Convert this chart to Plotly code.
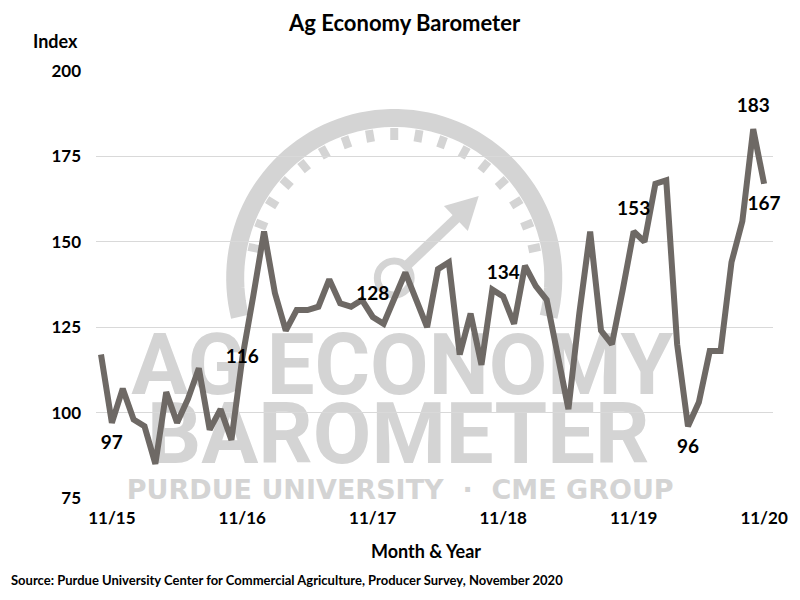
import numpy as np
import pandas as pd
import plotly.graph_objects as go

# ---------------- data ----------------
months = [d.strftime('%m/%y') for d in pd.date_range('2015-10-01', periods=62, freq='MS')]
index_values = [117, 97, 107, 98, 96, 85, 106, 97, 104, 113, 95, 101, 92,
                116, 134, 153, 135, 124, 130, 130, 131, 139, 132, 131, 133,
                128, 126, 133, 141, 133, 125, 142, 144, 117, 129, 114, 136,
                134, 126, 143, 137, 133, 117, 101, 129, 153, 124, 120, 136,
                153, 150, 167, 168, 120, 96, 103, 118, 118, 144, 156, 183, 167]
tick_months = ['11/15', '11/16', '11/17', '11/18', '11/19', '11/20']
label_months = ['11/15', '11/16', '11/17', '11/18', '11/19', '04/20', '10/20', '11/20']
label_positions = ['bottom center', 'middle center', 'top center', 'top center',
                   'top center', 'bottom center', 'top center', 'bottom center']
y_ticks = [75, 100, 125, 150, 175, 200]

label_values = [index_values[months.index(m)] for m in label_months]

FONT = 'Lato'
LINE_COLOR = '#6e6965'
W_COLOR = '#d4d4d4'

fig = go.Figure()
fig.add_trace(go.Scatter(x=months, y=index_values, mode='lines',
                         line=dict(color=LINE_COLOR, width=6),
                         hoverinfo='skip', showlegend=False))
fig.add_trace(go.Scatter(x=label_months, y=label_values, mode='markers+text',
                         text=[str(v) for v in label_values],
                         textposition=label_positions,
                         marker=dict(size=18, opacity=0), cliponaxis=False,
                         textfont=dict(family=FONT, size=19, color='#000000', weight='bold'),
                         hoverinfo='skip', showlegend=False))

# ---------------- watermark (decorative) ----------------
L, R, T, B = 96, 777, 71, 498


def pp(x, y):
    return (x - L) / (R - L), (B - y) / (B - T)


def path_from(points, close=False):
    s = ''
    for k, (x, y) in enumerate(points):
        u, v = pp(x, y)
        s += ('M' if k == 0 else 'L') + f'{u:.5f},{v:.5f} '
    return s + ('Z' if close else '')


shapes = []
cx, cy = 396, 278
ang = np.radians(np.linspace(-14, 194, 80))
ring = [(cx + 160 * np.cos(a), cy - 160 * np.sin(a)) for a in ang]
shapes.append(dict(type='path', path=path_from(ring), xref='paper', yref='paper',
                   line=dict(color=W_COLOR, width=18), layer='below'))
for a in np.radians(np.arange(12, 170, 9.75)):
    seg = [(cx + 138 * np.cos(a), cy - 138 * np.sin(a)),
           (cx + 150 * np.cos(a), cy - 150 * np.sin(a))]
    shapes.append(dict(type='path', path=path_from(seg), xref='paper', yref='paper',
                       line=dict(color=W_COLOR, width=8), layer='below'))
# arrow
shapes.append(dict(type='path', path=path_from([(405, 269), (462, 215)]), xref='paper', yref='paper',
                   line=dict(color=W_COLOR, width=10), layer='below'))
shapes.append(dict(type='path', path=path_from([(481, 196), (470, 231), (446, 206)], close=True),
                   xref='paper', yref='paper', fillcolor=W_COLOR, line=dict(width=0), layer='below'))
x0, y0 = pp(cx - 17, cy + 17)
x1, y1 = pp(cx + 17, cy - 17)
shapes.append(dict(type='circle', x0=x0, x1=x1, y0=y0, y1=y1, xref='paper', yref='paper',
                   line=dict(color=W_COLOR, width=7), layer='below'))


def text_box(text, xc, yc, w, h, family, size):
    a0, b0 = pp(xc - w / 2, yc + h / 2)
    a1, b1 = pp(xc + w / 2, yc - h / 2)
    return dict(type='rect', x0=a0, x1=a1, y0=b0, y1=b1, xref='paper', yref='paper',
                line=dict(width=0), fillcolor='rgba(0,0,0,0)', layer='below',
                label=dict(text=text, textposition='middle center',
                           font=dict(family=family, size=size, color=W_COLOR, weight='bold')))


shapes.append(text_box('AG ECONOMY', 404, 359, 560, 80, 'Roboto', 85))
shapes.append(text_box('BAROMETER', 400, 428, 540, 80, 'Roboto', 85))
shapes.append(text_box('PURDUE UNIVERSITY  ·  CME GROUP', 402, 487, 540, 26, 'DejaVu Sans', 27))


def ann(text, x, y, size, xanchor='center'):
    u, v = pp(x, y)
    return dict(text=text, x=u, y=v, xref='paper', yref='paper', showarrow=False,
                xanchor=xanchor, yanchor='middle',
                font=dict(family=FONT, size=size, color='#000000', weight='bold'))


# ---------------- layout ----------------
fig.update_layout(
    width=800, height=600,
    margin=dict(l=L, r=800 - R, t=T, b=600 - B),
    paper_bgcolor='white', plot_bgcolor='white',
    shapes=shapes,
    xaxis=dict(type='category', range=[-0.46, 61.82], showgrid=False, zeroline=False,
               showline=False, tickmode='array', tickvals=tick_months, ticktext=tick_months,
               ticks='', ticklabelstandoff=8,
               tickfont=dict(family=FONT, size=17, color='#000000', weight='bold')),
    yaxis=dict(range=[75, 200], tickvals=y_ticks, showgrid=True, gridcolor='#d9d9d9',
               gridwidth=1.2, zeroline=False, showline=False, ticks='', ticklabelstandoff=14,
               tickfont=dict(family=FONT, size=17, color='#000000', weight='bold')),
    annotations=[
        ann('Ag Economy Barometer', 406, 22, 22),
        ann('Index', 55, 41, 18),
        ann('Month & Year', 428, 551, 18),
        ann('Source: Purdue University Center for Commercial Agriculture, Producer Survey, November 2020',
            8, 580, 13, xanchor='left'),
    ],
)

fig.write_html('out.html')
